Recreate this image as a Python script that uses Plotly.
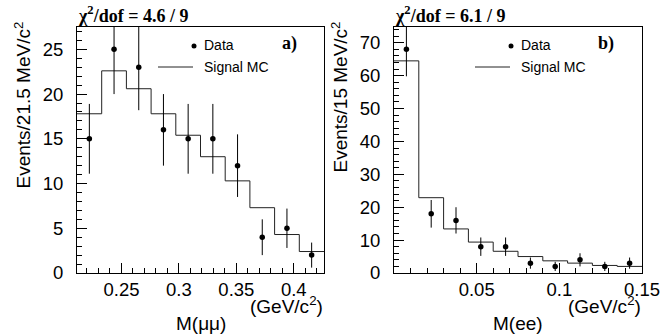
import plotly.graph_objects as go

# ---------------- data ----------------
# Panel a) M(mumu), 21.5 MeV bins
mm_edges = [0.2113, 0.2328, 0.2543, 0.2758, 0.2973, 0.3188, 0.3403, 0.3618, 0.3833, 0.4048, 0.4263]
mm_centers = [0.22205, 0.24355, 0.26505, 0.28655, 0.30805, 0.32955, 0.35105, 0.37255, 0.39405, 0.41555]
mm_data = [15, 25, 23, 16, 15, 15, 12, 4, 5, 2]
mm_err = [3.9, 5.0, 4.8, 4.0, 3.9, 3.9, 3.5, 2.0, 2.2, 1.4]
mm_mc = [17.8, 22.6, 20.6, 17.8, 15.4, 13.0, 10.3, 7.3, 4.3, 2.4]

# Panel b) M(ee), 15 MeV bins
ee_edges = [0.0, 0.015, 0.03, 0.045, 0.06, 0.075, 0.09, 0.105, 0.12, 0.135, 0.15]
ee_centers = [0.0075, 0.0225, 0.0375, 0.0525, 0.0675, 0.0825, 0.0975, 0.1125, 0.1275, 0.1425]
ee_data = [68, 18, 16, 8, 8, 3, 2, 4, 2, 3]
ee_err = [8.2, 4.2, 4.0, 2.8, 2.8, 1.7, 1.4, 2.0, 1.4, 1.7]
ee_mc = [64.5, 22.9, 13.4, 9.4, 6.6, 5.0, 3.7, 3.0, 2.3, 2.0]

mm_xticks = [0.25, 0.3, 0.35, 0.4]
ee_xticks = [0.05, 0.1, 0.15]

titles = ["χ<sup>2</sup>/dof = 4.6 / 9", "χ<sup>2</sup>/dof = 6.1 / 9"]
panel_labels = ["a)", "b)"]
ytitles = ["Events/21.5 MeV/c<sup>2</sup>", "Events/15 MeV/c<sup>2</sup>"]
xtitles = ["M(μμ)", "M(ee)"]
xunit = "(GeV/c<sup>2</sup>)"
leg_data = "Data"
leg_mc = "Signal MC"

# ---------------- layout helpers ----------------
W, H = 660, 336
def px(x):
    return x / W
def py(y):
    return 1 - y / H

SANS = "Liberation Sans, Arial, Helvetica, sans-serif"
SERIF = "Liberation Serif, Times New Roman, serif"

fig = go.Figure()

panels = [
    dict(edges=mm_edges, centers=mm_centers, data=mm_data, err=mm_err, mc=mm_mc,
         xr=[mm_edges[0], mm_edges[-1]], yr=[0, 27.5], ydt=5, ymin=1, xt=mm_xticks,
         left=77, right=324, xa="x", ya="y"),
    dict(edges=ee_edges, centers=ee_centers, data=ee_data, err=ee_err, mc=ee_mc,
         xr=[ee_edges[0], ee_edges[-1] + 1e-7], yr=[0, 74.8], ydt=10, ymin=2, xt=ee_xticks,
         left=394, right=642, xa="x2", ya="y2"),
]
top, bottom = 27, 273

annotations = []
shapes = []
for i, p in enumerate(panels):
    # MC step histogram
    hx = list(p["edges"])
    hy = list(p["mc"]) + [p["mc"][-1]]
    fig.add_trace(go.Scatter(x=hx, y=hy, mode="lines", line=dict(color="#222222", width=1, shape="hv"),
                             xaxis=p["xa"], yaxis=p["ya"], showlegend=False, name=leg_mc))
    # Data points
    fig.add_trace(go.Scatter(x=p["centers"], y=p["data"], mode="markers",
                             marker=dict(color="black", size=5.5),
                             error_y=dict(type="data", array=p["err"], width=0, thickness=1, color="black"),
                             xaxis=p["xa"], yaxis=p["ya"], showlegend=False, name=leg_data))
    L, R = p["left"], p["right"]
    # chi2 title
    annotations.append(dict(text="<b>" + titles[i] + "</b>", x=px(L - 1), y=py(15), xref="paper", yref="paper",
                            xanchor="left", yanchor="middle", showarrow=False,
                            font=dict(family=SERIF, size=18, color="black")))
    # panel label
    annotations.append(dict(text="<b>" + panel_labels[i] + "</b>", x=px(L + 212), y=py(43), xref="paper", yref="paper",
                            xanchor="center", yanchor="middle", showarrow=False,
                            font=dict(family=SERIF, size=18, color="black")))
    # legend
    annotations.append(dict(text=leg_data, x=px(L + 125), y=py(45), xref="paper", yref="paper",
                            xanchor="left", yanchor="middle", showarrow=False,
                            font=dict(family=SANS, size=14, color="black")))
    annotations.append(dict(text=leg_mc, x=px(L + 125), y=py(67), xref="paper", yref="paper",
                            xanchor="left", yanchor="middle", showarrow=False,
                            font=dict(family=SANS, size=14, color="black")))
    shapes.append(dict(type="circle", xref="paper", yref="paper",
                       x0=px(L + 114.5), x1=px(L + 119.5), y0=py(43.5), y1=py(48.5),
                       fillcolor="black", line=dict(color="black", width=0)))
    shapes.append(dict(type="line", xref="paper", yref="paper",
                       x0=px(L + 81), x1=px(L + 116), y0=py(67), y1=py(67),
                       line=dict(color="#222222", width=1)))
    # y title
    annotations.append(dict(text=ytitles[i], x=px(L - 55), y=py(20), xref="paper", yref="paper",
                            xanchor="center", yanchor="top", textangle=-90, showarrow=False,
                            font=dict(family=SANS, size=19, color="black")))
    # x title
    annotations.append(dict(text=xtitles[i], x=px((L + R) / 2), y=py(323), xref="paper", yref="paper",
                            xanchor="center", yanchor="middle", showarrow=False,
                            font=dict(family=SANS, size=19, color="black")))
    annotations.append(dict(text=xunit, x=px(R + 1), y=py(291), xref="paper", yref="paper",
                            xanchor="right", yanchor="top", showarrow=False,
                            font=dict(family=SANS, size=19, color="black")))

    axis_common = dict(showline=True, linecolor="black", linewidth=1, mirror=True,
                       showgrid=False, zeroline=False, ticks="inside", tickcolor="black",
                       tickwidth=1, ticklen=10, automargin=False,
                       tickfont=dict(family=SANS, size=18.5, color="black"))
    xname = "xaxis" if i == 0 else "xaxis2"
    yname = "yaxis" if i == 0 else "yaxis2"
    fig.layout[xname] = dict(axis_common, domain=[px(L), px(R)], range=p["xr"],
                             tickmode="array", tickvals=p["xt"], ticktext=[("%g" % v) for v in p["xt"]],
                             minor=dict(ticks="inside", ticklen=5, tickcolor="black", dtick=0.01, tick0=0,
                                        showgrid=False),
                             ticklabelstandoff=0, ticklabeloverflow="allow",
                             anchor="y" if i == 0 else "y2")
    fig.layout[yname] = dict(axis_common, domain=[py(bottom), py(top)], range=p["yr"],
                             tick0=0, dtick=p["ydt"],
                             minor=dict(ticks="inside", ticklen=5, tickcolor="black", dtick=p["ymin"],
                                        showgrid=False),
                             ticklabelstandoff=9,
                             anchor="x" if i == 0 else "x2")

fig.update_layout(width=W, height=H, margin=dict(l=0, r=0, t=0, b=0, autoexpand=False),
                  paper_bgcolor="white", plot_bgcolor="white", template="none",
                  annotations=annotations, shapes=shapes, showlegend=False)

fig.write_html("out.html")
